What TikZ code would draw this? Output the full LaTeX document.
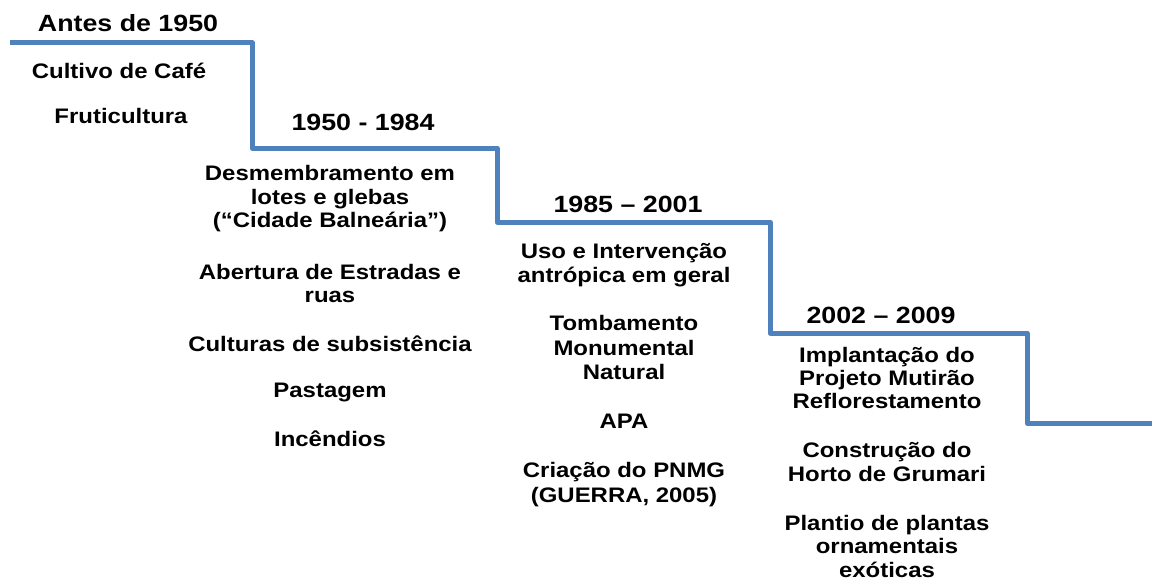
\documentclass[tikz,border=0pt]{standalone}
\usepackage{fontspec}
\setmainfont{Liberation Sans}[FakeStretch=1.14]
\definecolor{stepblue}{HTML}{4F81BD}
\begin{document}
\begin{tikzpicture}[x=1pt,y=-1pt,
  item/.style={anchor=base, inner sep=0pt, font=\fontsize{21}{24}\selectfont\bfseries},
  period/.style={anchor=base, inner sep=0pt, font=\fontsize{23.5}{27}\selectfont\bfseries},
  stair/.style={draw=stepblue, line width=5pt, line join=round}]
\useasboundingbox (0,0) rectangle (1152,578);
% staircase
\coordinate (s0) at (10,43);
\coordinate (s1) at (252,43);
\coordinate (s2) at (252,148);
\coordinate (s3) at (497,148);
\coordinate (s4) at (497,222);
\coordinate (s5) at (770,222);
\coordinate (s6) at (770,333);
\coordinate (s7) at (1027,333);
\coordinate (s8) at (1027,423);
\coordinate (s9) at (1156,423);
\draw[stair] (s0) -- (s1) -- (s2) -- (s3) -- (s4) -- (s5) -- (s6) -- (s7) -- (s8) -- (s9);
% period 1
\node[period] (p1) at (128,32) {Antes de 1950};
\node[item] (a1) at (119,78) {Cultivo de Café};
\node[item] (a2) at (121,124) {Fruticultura};
% period 2
\node[period] (p2) at (363,130) {1950 - 1984};
\node[item] (b1) at (330,180) {Desmembramento em};
\node[item] (b2) at (330,204) {lotes e glebas};
\node[item] (b3) at (330,227) {(“Cidade Balneária”)};
\node[item] (b4) at (330,279) {Abertura de Estradas e};
\node[item] (b5) at (330,302) {ruas};
\node[item] (b6) at (330,351) {Culturas de subsistência};
\node[item] (b7) at (330,397) {Pastagem};
\node[item] (b8) at (330,446) {Incêndios};
% period 3
\node[period] (p3) at (628,212) {1985 – 2001};
\node[item] (c1) at (624,258) {Uso e Intervenção};
\node[item] (c2) at (624,282) {antrópica em geral};
\node[item] (c3) at (624,330) {Tombamento};
\node[item] (c4) at (624,355) {Monumental};
\node[item] (c5) at (624,379) {Natural};
\node[item] (c6) at (624,428) {APA};
\node[item] (c7) at (624,477) {Criação do PNMG};
\node[item] (c8) at (624,502) {(GUERRA, 2005)};
% period 4
\node[period] (p4) at (881,323) {2002 – 2009};
\node[item] (d1) at (887,362) {Implantação do};
\node[item] (d2) at (887,385) {Projeto Mutirão};
\node[item] (d3) at (887,408) {Reflorestamento};
\node[item] (d4) at (887,457) {Construção do};
\node[item] (d5) at (887,481) {Horto de Grumari};
\node[item] (d6) at (887,530) {Plantio de plantas};
\node[item] (d7) at (887,553) {ornamentais};
\node[item] (d8) at (887,577) {exóticas};
\end{tikzpicture}
\end{document}
